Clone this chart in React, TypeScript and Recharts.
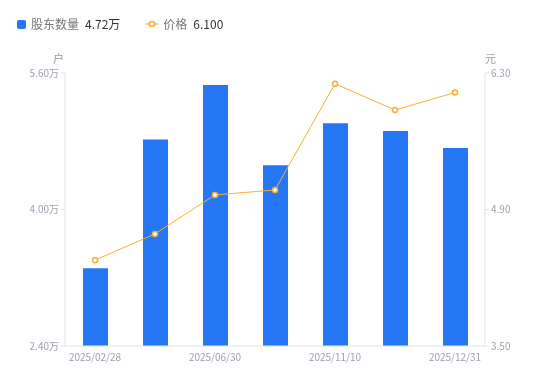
import React from 'react';
import { ComposedChart, Bar, Line, XAxis, YAxis } from 'recharts';

// 报告期
const dates = ['2025/02/28', '2025/03/31', '2025/06/30', '2025/09/30', '2025/11/10', '2025/11/30', '2025/12/31'];
// 股东数量 (万户)
const holders = [3.31, 4.82, 5.46, 4.52, 5.01, 4.92, 4.72];
// 价格 (元)
const prices = [4.38, 4.65, 5.05, 5.10, 6.19, 5.92, 6.10];

const leftTicks = [2.4, 4.0, 5.6];
const rightTicks = [3.5, 4.9, 6.3];

const BLUE = '#2677f5';
const ORANGE = '#f7b02f';
const AXIS = '#e3e3e8';
const TICK = '#9e9fb0';

const data = dates.map((d, i) => ({ date: d, holders: holders[i], price: prices[i] }));

const font = '"Noto Sans CJK SC", "Noto Sans", sans-serif';

export default function App() {
  return (
    <div style={{ position: 'fixed', left: 0, top: 0, width: 550, height: 381, fontFamily: font }}>
      <div style={{ position: 'absolute', left: 17, top: 15, display: 'flex', alignItems: 'center', fontSize: 12, lineHeight: '18px' }}>
        <span style={{ display: 'inline-block', width: 9, height: 9, borderRadius: 2, background: BLUE, marginRight: 5 }} />
        <span style={{ color: '#777' }}>股东数量</span>
        <span style={{ color: '#333', marginLeft: 6 }}>4.72万</span>
        <svg width="12" height="8" style={{ marginLeft: 26, marginRight: 5 }}>
          <line x1="0" y1="4" x2="12" y2="4" stroke={ORANGE} strokeWidth="1.5" />
          <circle cx="6" cy="4" r="2.5" fill="#fff" stroke={ORANGE} strokeWidth="1.5" />
        </svg>
        <span style={{ color: '#777' }}>价格</span>
        <span style={{ color: '#333', marginLeft: 6 }}>6.100</span>
      </div>
      <ComposedChart width={550} height={381} data={data} margin={{ top: 73, right: 0, bottom: 5, left: 0 }}>
        <XAxis
          dataKey="date"
          interval={1}
          tickLine={false}
          axisLine={{ stroke: AXIS }}
          tick={{ fill: TICK, fontSize: 10, fontFamily: font }}
          height={30}
        />
        <YAxis
          yAxisId="left"
          domain={[2.4, 5.6]}
          ticks={leftTicks}
          width={65}
          axisLine={{ stroke: AXIS }}
          tickLine={{ stroke: AXIS }}
          tickSize={4}
          tick={{ fill: TICK, fontSize: 10, fontFamily: font }}
          tickFormatter={(v: number) => v.toFixed(2) + '万'}
          label={{ value: '户', position: 'top', offset: 10, dx: 26, fill: '#999', fontSize: 11, fontFamily: font }}
        />
        <YAxis
          yAxisId="right"
          orientation="right"
          domain={[3.5, 6.3]}
          ticks={rightTicks}
          width={65}
          axisLine={{ stroke: AXIS }}
          tickLine={{ stroke: AXIS }}
          tickSize={4}
          tick={{ fill: TICK, fontSize: 10, fontFamily: font }}
          tickFormatter={(v: number) => v.toFixed(2)}
          label={{ value: '元', position: 'top', offset: 10, dx: -27, fill: '#999', fontSize: 11, fontFamily: font }}
        />
        <Bar yAxisId="left" dataKey="holders" fill={BLUE} barSize={25} isAnimationActive={false} />
        <Line
          yAxisId="right"
          dataKey="price"
          stroke={ORANGE}
          strokeWidth={1}
          dot={{ r: 2.5, fill: '#fff', stroke: ORANGE, strokeWidth: 1.5 }}
          isAnimationActive={false}
        />
      </ComposedChart>
    </div>
  );
}
